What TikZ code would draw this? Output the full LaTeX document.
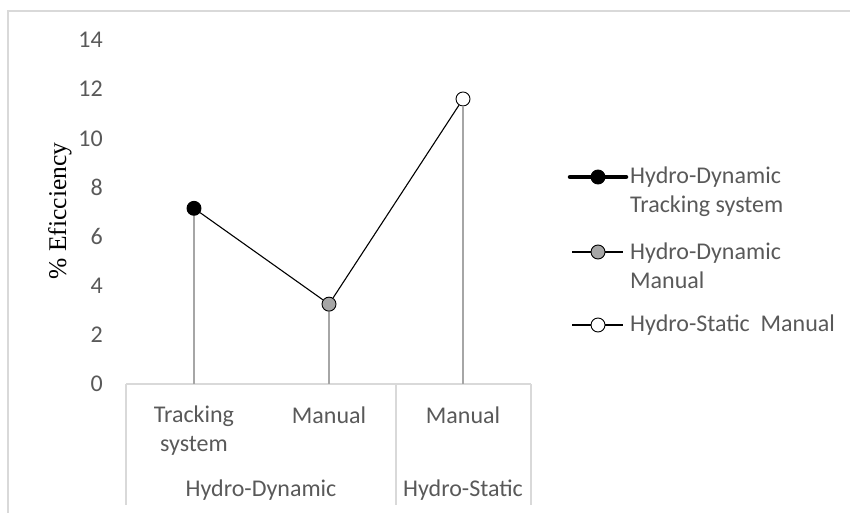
\documentclass[tikz,border=0pt]{standalone}
\usepackage{fontspec}
\setmainfont{Carlito}
\newfontfamily\titlefont{Liberation Serif}
\usetikzlibrary{positioning}

\begin{document}
\begin{tikzpicture}[x=1pt, y=-1pt]
  \colorlet{textcol}{black!65}
  \colorlet{gridcol}{black!15}
  \colorlet{dropcol}{black!35}
  \tikzset{
    lbl/.style={font=\fontsize{24}{29}\selectfont, text=textcol, inner sep=0pt},
    dot/.style={circle, draw=black, line width=0.9pt,
      minimum size=14pt, inner sep=0pt, fill=#1},
    dot/.default=white,
    frame/.style={draw=gridcol, line width=1.2pt},
    drop/.style={draw=dropcol, line width=1.8pt},
    series/.style={draw=black, line width=1.1pt}
  }
  \useasboundingbox (0,0) rectangle (850,513);
  % chart frame
  \draw[frame] (850,11) -- (8,11) -- (8,513);
  % value axis
  \foreach \v in {0,2,...,14}
    \node[lbl, anchor=east] (tick\v) at (103,{384-24.57*\v}) {\v};
  \node[lbl, font=\titlefont\fontsize{25.5}{30}\selectfont, text=black, rotate=90]
    (ytitle) at (60,211) {\% Eficciency};
  % category box
  \coordinate (axl) at (126,384);
  \coordinate (axr) at (531,384);
  \draw[frame] (axl) -- (axr);
  \draw[frame] (126,384) -- (126,505);
  \draw[frame] (396,384) -- (396,505);
  \draw[frame] (531,384) -- (531,505);
  \node[lbl, align=center] (cat1) at (194,431) {Tracking\\system};
  \node[lbl] (cat2) at (329,415) {Manual};
  \node[lbl] (cat3) at (463,415) {Manual};
  \node[lbl] (grp1) at (261,490) {Hydro-Dynamic};
  \node[lbl] (grp2) at (463,490) {Hydro-Static};
  % data points
  \node[dot=black] (pt1) at (194,{384-24.57*7.15}) {};
  \node[dot=dropcol] (pt2) at (329,{384-24.57*3.25}) {};
  \node[dot=white] (pt3) at (463,{384-24.57*11.6}) {};
  \draw[drop] (pt1.south) -- (pt1 |- axl);
  \draw[drop] (pt2.south) -- (pt2 |- axl);
  \draw[drop] (pt3.south) -- (pt3 |- axl);
  \draw[series] (pt1) -- (pt2) -- (pt3);
  % legend
  \coordinate (lg1a) at (570,177);
  \coordinate (lg1b) at (626,177);
  \coordinate (lg2a) at (572,252);
  \coordinate (lg2b) at (623,252);
  \coordinate (lg3a) at (572,325);
  \coordinate (lg3b) at (623,325);
  \draw[series, line width=4.5pt, line cap=round] (lg1a) -- (lg1b);
  \draw[series] (lg2a) -- (lg2b);
  \draw[series] (lg3a) -- (lg3b);
  \node[dot=black] (lgm1) at (598,177) {};
  \node[dot=dropcol] (lgm2) at (598,252) {};
  \node[dot=white] (lgm3) at (598,325) {};
  \node[lbl, anchor=west, align=left] (lgt1) at (630,191.5) {Hydro-Dynamic\\Tracking system};
  \node[lbl, anchor=west, align=left] (lgt2) at (630,266) {Hydro-Dynamic\\Manual};
  \node[lbl, anchor=west] (lgt3) at (630,325) {Hydro-Static~ Manual};
\end{tikzpicture}
\end{document}
